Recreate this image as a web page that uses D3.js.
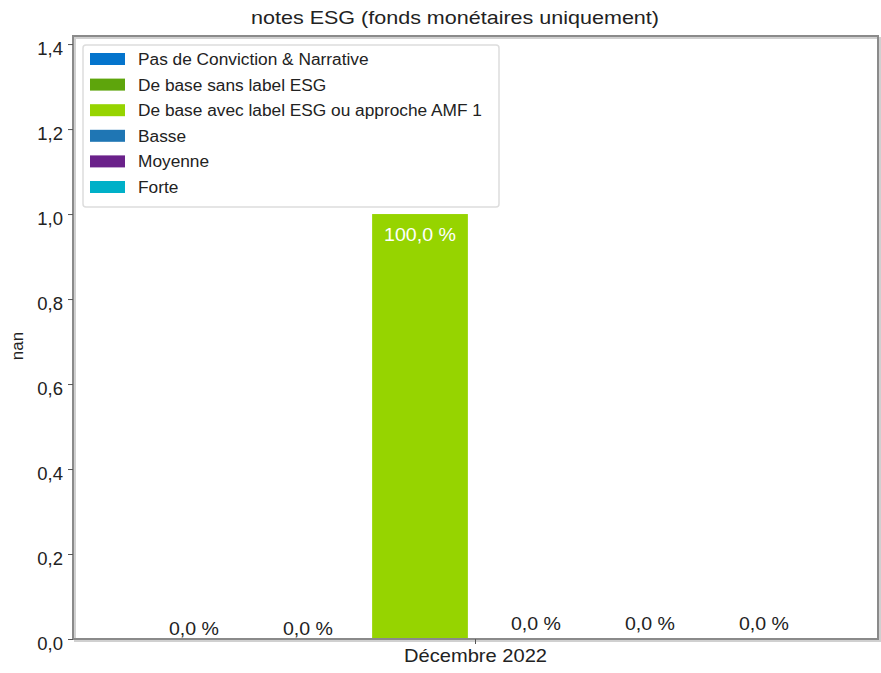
<!DOCTYPE html>
<html><head><meta charset="utf-8">
<script src="https://cdn.jsdelivr.net/npm/d3@7"></script>
<style>body{margin:0;background:#fff;} text{font-family:"Liberation Sans",Arial,sans-serif;}</style>
</head><body><svg id="c" width="881" height="673"></svg>
<script>
const categories = ["Décembre 2022"];
const seriesNames = ["Pas de Conviction & Narrative","De base sans label ESG","De base avec label ESG ou approche AMF 1","Basse","Moyenne","Forte"];
const seriesValues = [0.0, 0.0, 1.0, 0.0, 0.0, 0.0];
const seriesColors = ["#0474cc","#5ea50c","#96d400","#1f76b4","#6a218a","#00b0c8"];
const yTicks = [0,0.2,0.4,0.6,0.8,1.0,1.2,1.4];
const labelDy = [-3,-3,0,-8,-8,-8];

const svg = d3.select("#c");
const L=73,R=878,T=36,B=639;
const y = d3.scaleLinear().domain([0,1.419]).range([B,T]);
const x0 = d3.scaleBand().domain(categories).range([L,R]).padding(0);
const x1 = d3.scaleBand().domain(seriesNames).range([135,819]).paddingInner(0.16).paddingOuter(0.08);
const fmt = v => d3.format(".1f")(v*100).replace(".",",")+" %";

// title
svg.append("text").attr("x",455).attr("y",24).attr("text-anchor","middle").attr("font-size",18.5)
  .attr("textLength",408).attr("lengthAdjust","spacingAndGlyphs").attr("fill","#222").text("notes ESG (fonds monétaires uniquement)");

// frame shadow
svg.append("rect").attr("x",L+2).attr("y",T+2).attr("width",R-L).attr("height",B-T).attr("fill","none").attr("stroke","#d0d0d0").attr("stroke-width",2);

// bars
const g = svg.append("g");
seriesNames.forEach((s,i)=>{
  const v = seriesValues[i];
  const bx = x1(s), bw = x1.bandwidth();
  if(v>0){
    g.append("rect").attr("x",bx).attr("y",y(v)).attr("width",bw).attr("height",y(0)-y(v)).attr("fill",seriesColors[i]);
    g.append("text").attr("x",bx+bw/2).attr("y",y(v)+27).attr("text-anchor","middle").attr("font-size",18.5)
      .attr("textLength",72).attr("lengthAdjust","spacingAndGlyphs").attr("fill","#fff").text(fmt(v));
  } else {
    g.append("text").attr("x",bx+bw/2+2).attr("y",y(v)-1+labelDy[i]).attr("text-anchor","middle").attr("font-size",19)
      .attr("textLength",50).attr("lengthAdjust","spacingAndGlyphs").attr("fill","#222").text(fmt(v));
  }
});

svg.append("rect").attr("x",L).attr("y",T).attr("width",R-L).attr("height",B-T).attr("fill","none").attr("stroke","#8a8a8a").attr("stroke-width",2);

// y axis
const ya = svg.append("g").attr("transform",`translate(${L},0)`).call(d3.axisLeft(y).tickValues(yTicks).tickSize(5).tickFormat(d=>d3.format(".1f")(d).replace(".",",")));
ya.select(".domain").remove();
ya.selectAll("line").attr("stroke","#555");
ya.selectAll("text").attr("font-size",18.5).attr("fill","#222").attr("font-family","Liberation Sans, Arial, sans-serif").attr("dy","0.35em").attr("y",4).attr("x",-10);

// x axis
const xa = svg.append("g").attr("transform",`translate(0,${B})`).call(d3.axisBottom(x0).tickSize(5));
xa.select(".domain").remove();
xa.selectAll("line").attr("stroke","#555");
xa.selectAll("text").attr("font-size",18.5).attr("fill","#222").attr("font-family","Liberation Sans, Arial, sans-serif")
  .attr("textLength",143).attr("lengthAdjust","spacingAndGlyphs").attr("y",10).attr("dy","0.71em");

// y label
svg.append("text").attr("transform","translate(23,346) rotate(-90)").attr("text-anchor","middle").attr("font-size",17).attr("fill","#222").text("nan");

// legend
const lg = svg.append("g");
lg.append("rect").attr("x",83).attr("y",45).attr("width",416).attr("height",162).attr("rx",3).attr("fill","#fff").attr("stroke","#ddd").attr("stroke-width",1.5);
seriesNames.forEach((s,i)=>{
  const yy = 59 + i*25.6;
  lg.append("rect").attr("x",90).attr("y",yy-6).attr("width",35).attr("height",12).attr("fill",seriesColors[i]);
  lg.append("text").attr("x",138).attr("y",yy+6).attr("font-size",17.3).attr("fill","#222").text(s);
});
</script></body></html>
